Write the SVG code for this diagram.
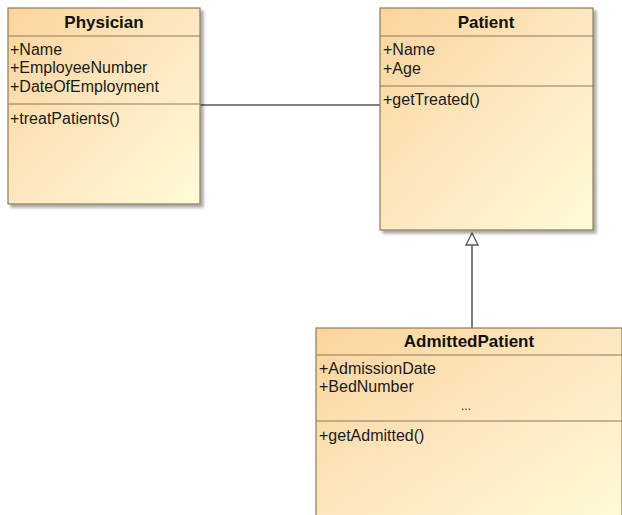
<svg xmlns="http://www.w3.org/2000/svg" width="622" height="515" viewBox="0 0 622 515">
<defs>
<linearGradient id="fill" x1="0" y1="0" x2="1" y2="1">
<stop offset="0" stop-color="#fbd49c"/>
<stop offset="0.5" stop-color="#fde7bf"/>
<stop offset="1" stop-color="#fffbd8"/>
</linearGradient>
<filter id="sh" x="-5%" y="-5%" width="115%" height="115%">
<feGaussianBlur in="SourceAlpha" stdDeviation="1.5"/>
<feOffset dx="3" dy="3"/>
<feComponentTransfer><feFuncA type="linear" slope="0.35"/></feComponentTransfer>
<feMerge><feMergeNode/><feMergeNode in="SourceGraphic"/></feMerge>
</filter>
</defs>
<style>
.box{fill:url(#fill);stroke:#8a7a5c;stroke-width:1.2}
.div{stroke:#8a7a5c;stroke-width:1.2}
.t{font-family:"Liberation Sans",Arial,sans-serif;font-size:17px;font-weight:bold;fill:#111;text-anchor:middle}
.m{font-family:"Liberation Sans",Arial,sans-serif;font-size:16px;fill:#1a1a1a}
.c{stroke:#555;stroke-width:1.5;fill:none}
</style>
<rect width="622" height="515" fill="#fff"/>
<g id="connectors">
<line class="c" x1="200" y1="105" x2="380" y2="105"/>
<line class="c" x1="472" y1="245" x2="472" y2="328"/>
<polygon points="472,233 466,245 478,245" fill="#fff" stroke="#555" stroke-width="1.3"/>
</g>
<g id="Physician">
<rect class="box" x="8" y="8" width="192" height="196" filter="url(#sh)"/>
<line class="div" x1="8" y1="36" x2="200" y2="36"/>
<line class="div" x1="8" y1="104" x2="200" y2="104"/>
<text class="t" x="104" y="28">Physician</text>
<text class="m" x="10" y="55">+Name</text>
<text class="m" x="10" y="73">+EmployeeNumber</text>
<text class="m" x="10" y="92">+DateOfEmployment</text>
<text class="m" x="10" y="124">+treatPatients()</text>
</g>
<g id="Patient">
<rect class="box" x="380" y="8" width="213" height="222" filter="url(#sh)"/>
<line class="div" x1="380" y1="36" x2="593" y2="36"/>
<line class="div" x1="380" y1="86" x2="593" y2="86"/>
<text class="t" x="486" y="28">Patient</text>
<text class="m" x="383" y="55">+Name</text>
<text class="m" x="383" y="74">+Age</text>
<text class="m" x="383" y="105">+getTreated()</text>
</g>
<g id="AdmittedPatient">
<rect class="box" x="316" y="328" width="306" height="200"/>
<line class="div" x1="316" y1="355" x2="622" y2="355"/>
<line class="div" x1="316" y1="421" x2="622" y2="421"/>
<text class="t" x="469" y="347">AdmittedPatient</text>
<text class="m" x="319" y="374">+AdmissionDate</text>
<text class="m" x="319" y="392">+BedNumber</text>
<text class="m" x="461" y="410" style="font-size:12px">...</text>
<text class="m" x="319" y="441">+getAdmitted()</text>
</g>
</svg>
